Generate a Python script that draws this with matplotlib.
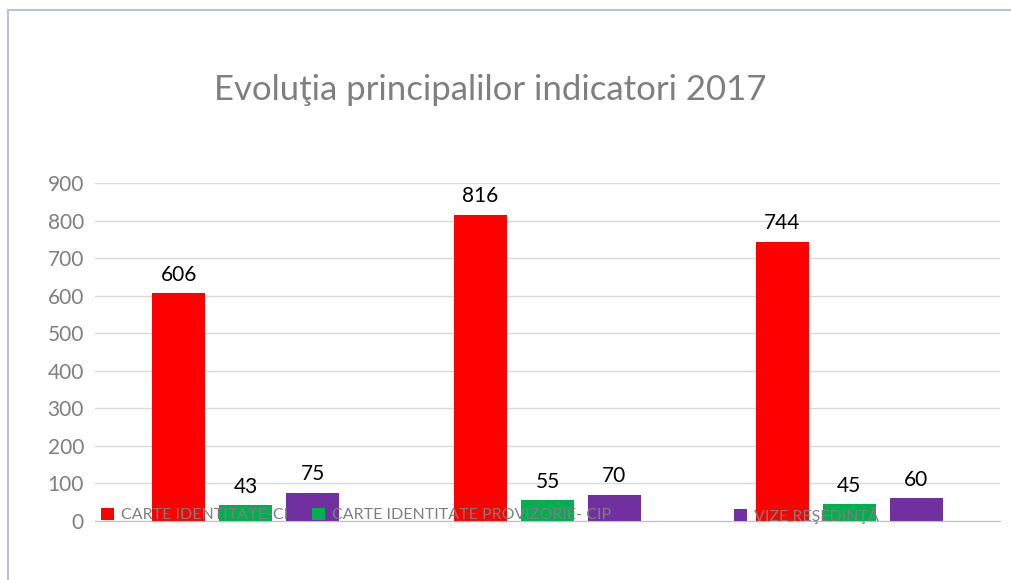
import matplotlib
matplotlib.use("Agg")
import matplotlib.pyplot as plt
import numpy as np
from matplotlib.patches import Rectangle

# data
groups = ["1", "2", "3"]
carte_ci = [606, 816, 744]
carte_cip = [43, 55, 45]
vize = [75, 70, 60]
series_names = ["CARTE IDENTITATE-CI", "CARTE IDENTITATE PROVIZORIE- CIP", "VIZE REŞEDINŢĂ"]
colors = ["#FF0000", "#00B050", "#7030A0"]

plt.rcParams['font.family'] = ['Lato', 'DejaVu Sans']

fig = plt.figure(figsize=(10.12, 5.8), dpi=100)
ax = fig.add_axes([95 / 1012, 1 - 521 / 580, 905 / 1012, 338 / 580])

x = np.arange(len(groups))
w = 0.175
off = 0.222
bars = []
for i, (vals, name, c) in enumerate(zip([carte_ci, carte_cip, vize], series_names, colors)):
    b = ax.bar(x + (i - 1) * off, vals, w, color=c, label=name, zorder=2)
    bars.append(b)
    for xi, v in zip(x + (i - 1) * off, vals):
        ax.annotate(str(v), (xi, v), xytext=(0, 6), textcoords="offset points",
                    ha="center", va="bottom", fontsize=15, color="black", zorder=3)

ax.set_xlim(-0.5, 2.5)
ax.set_ylim(0, 900)
ax.set_yticks(range(0, 901, 100))
ax.set_xticks([])
ax.grid(axis="y", color="#d9d9d9", linewidth=1, zorder=0)
for s in ["top", "right", "left"]:
    ax.spines[s].set_visible(False)
ax.spines["bottom"].set_color("#bfbfbf")
ax.tick_params(axis="y", length=0, labelsize=15, labelcolor="#7f7f7f", pad=8)

# legend entries spread along the bottom like the original
leg_x = [101, 312, 734]
for b, name, lx in zip(bars, series_names, leg_x):
    leg = fig.legend([b], [name], loc="center left",
                     bbox_to_anchor=(lx / 1012, 1 - 515 / 580), frameon=False,
                     fontsize=11.5, labelcolor="#7f7f7f", handlelength=0.8,
                     handleheight=0.8, handletextpad=0.45, borderpad=0,
                     borderaxespad=0)
    leg.set_zorder(5)

fig.text(490 / 1012, 1 - 90 / 580, "Evoluţia principalilor indicatori 2017",
         ha="center", va="center", fontsize=25, color="#7f7f7f")

# outer frame (chart border)
fig.patches.append(Rectangle((8 / 1012, -0.1), 1.2, 1 - 10 / 580 + 0.1,
                             transform=fig.transFigure, fill=False,
                             edgecolor="#b8c4d2", linewidth=1.5))

fig.savefig("out.png", dpi=100)
